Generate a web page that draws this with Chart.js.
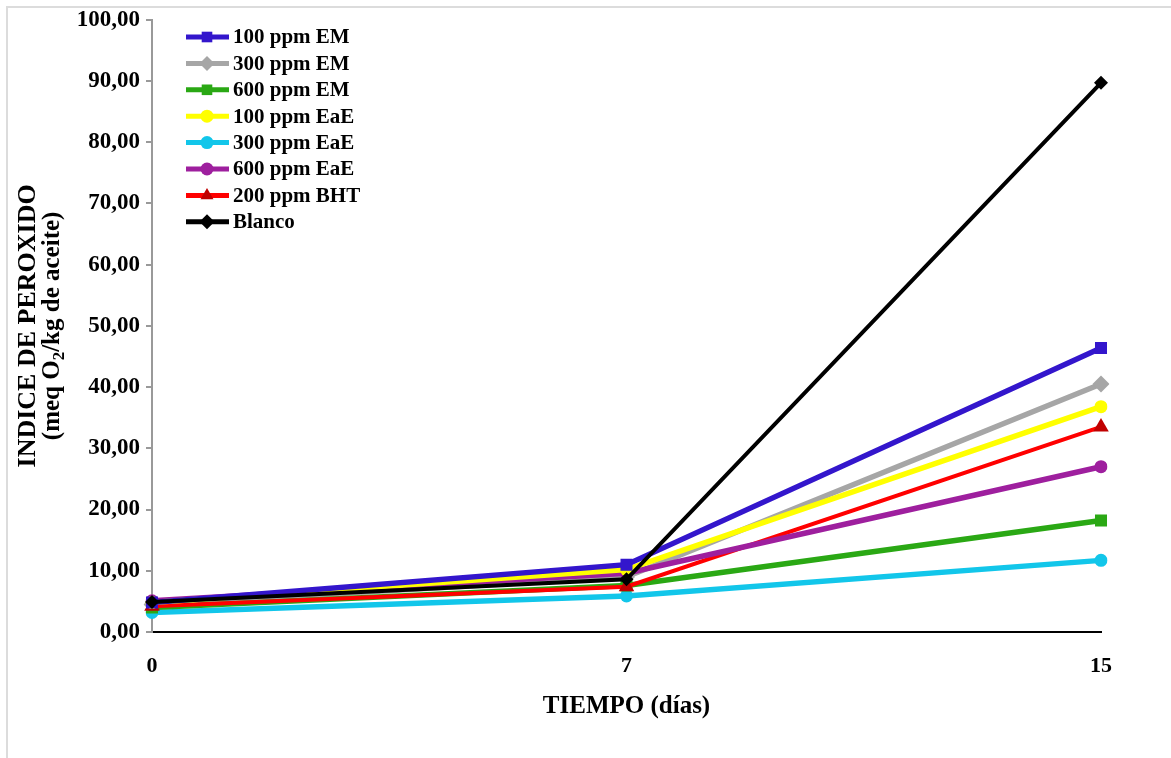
<!DOCTYPE html>
<html>
<head>
<meta charset="utf-8">
<script src="https://cdn.jsdelivr.net/npm/chart.js@4.4.1/dist/chart.umd.min.js"></script>
<style>
  html, body { margin: 0; padding: 0; background: #fff; }
  #wrap { position: relative; width: 1171px; height: 758px; }
  #frame { position: absolute; left: 6px; top: 6px; right: 0; bottom: 0; border-left: 2px solid #dcdcdc; border-top: 2px solid #dcdcdc; }
  canvas { position: absolute; left: 0; top: 0; }
</style>
</head>
<body>
<div id="wrap">
  <div id="frame"></div>
  <canvas id="chart" width="1171" height="758"></canvas>
</div>
<script>
const days = ["0", "7", "15"];
const em100 = [4.8, 11.0, 46.4];
const em300 = [4.5, 9.0, 40.5];
const em600 = [4.0, 7.6, 18.2];
const eae100 = [4.8, 10.2, 36.8];
const eae300 = [3.2, 5.9, 11.7];
const eae600 = [5.1, 9.6, 27.0];
const bht200 = [4.2, 7.4, 33.5];
const blanco = [4.9, 8.6, 89.7];

const yTicks = [0, 10, 20, 30, 40, 50, 60, 70, 80, 90, 100];
const serif = "'Liberation Serif', 'Times New Roman', serif";

function series(label, data, line, marker, style, radius, width, order) {
  return {
    label,
    data,
    borderColor: line,
    backgroundColor: marker,
    pointBackgroundColor: marker,
    pointBorderColor: marker,
    pointStyle: style,
    pointRadius: radius,
    pointHoverRadius: radius,
    pointBorderWidth: 0,
    borderWidth: width,
    tension: 0,
    order,
  };
}

const datasets = [
  series("100 ppm EM", em100, "#3316cc", "#3316cc", "rect", 8.5, 5.5, 2),
  series("300 ppm EM", em300, "#a6a6a6", "#a6a6a6", "rectRot", 8.5, 5.5, 7),
  series("600 ppm EM", em600, "#2aa814", "#2aa814", "rect", 8.5, 5.5, 6),
  series("100 ppm EaE", eae100, "#ffff00", "#ffff00", "circle", 6.5, 5.5, 3),
  series("300 ppm EaE", eae300, "#12c6ea", "#12c6ea", "circle", 6.5, 5.5, 8),
  series("600 ppm EaE", eae600, "#9e1f9e", "#9e1f9e", "circle", 6.5, 5.5, 4),
  series("200 ppm BHT", bht200, "#ff0000", "#c00000", "triangle", 9, 4, 5),
  series("Blanco", blanco, "#000000", "#000000", "rectRot", 7, 4, 1),
];

const overlay = {
  id: "overlay",
  afterDraw(chart) {
    const { ctx, chartArea } = chart;
    ctx.save();
    ctx.fillStyle = "#000";
    // axis titles
    ctx.font = `bold 25px ${serif}`;
    ctx.textAlign = "center";
    ctx.textBaseline = "middle";
    ctx.fillText("TIEMPO (días)", (chartArea.left + chartArea.right) / 2, 707);

    const cy = (chartArea.top + chartArea.bottom) / 2;
    ctx.save();
    ctx.translate(28, cy);
    ctx.rotate(-Math.PI / 2);
    ctx.font = `bold 26px ${serif}`;
    ctx.fillText("INDICE DE PEROXIDO", 0, 0);
    ctx.restore();

    ctx.save();
    ctx.translate(53, cy);
    ctx.rotate(-Math.PI / 2);
    ctx.font = `bold 25px ${serif}`;
    const a = "(meq O", b = "2", c = "/kg de aceite)";
    const wa = ctx.measureText(a).width;
    const wc = ctx.measureText(c).width;
    ctx.font = `bold 17px ${serif}`;
    const wb = ctx.measureText(b).width;
    let x = -(wa + wb + wc) / 2;
    ctx.textAlign = "left";
    ctx.font = `bold 25px ${serif}`;
    ctx.fillText(a, x, 0);
    x += wa;
    ctx.font = `bold 17px ${serif}`;
    ctx.fillText(b, x, 7);
    x += wb;
    ctx.font = `bold 25px ${serif}`;
    ctx.fillText(c, x, 0);
    ctx.restore();

    // legend
    ctx.font = `bold 21px ${serif}`;
    ctx.textAlign = "left";
    datasets.forEach((ds, i) => {
      const y = 37 + i * 26.4;
      ctx.strokeStyle = ds.borderColor;
      ctx.lineWidth = 5;
      ctx.beginPath();
      ctx.moveTo(186, y);
      ctx.lineTo(229, y);
      ctx.stroke();
      ctx.fillStyle = ds.pointBackgroundColor;
      ctx.strokeStyle = ds.pointBackgroundColor;
      Chart.helpers.drawPoint(ctx, { pointStyle: ds.pointStyle, rotation: 0, borderWidth: 0, radius: ds.pointStyle === "circle" ? 6.5 : 7.5 }, 207, y);
      ctx.fillStyle = "#000";
      ctx.fillText(ds.label, 233, y + 1);
    });
    ctx.restore();
  },
};

new Chart(document.getElementById("chart"), {
  type: "line",
  data: { labels: days, datasets },
  options: {
    responsive: false,
    animation: false,
    layout: { padding: { left: 8, right: 70, top: 15, bottom: 0 } },
    plugins: { legend: { display: false }, tooltip: { enabled: false } },
    scales: {
      x: {
        type: "category",
        offset: false,
        grid: { drawOnChartArea: false, drawTicks: false },
        border: { color: "#000", width: 2 },
        ticks: { color: "#000", font: { family: serif, size: 22, weight: "bold" }, padding: 21, maxRotation: 0 },
        afterFit(scale) { scale.height = 126; },
      },
      y: {
        min: 0,
        max: 100,
        afterBuildTicks(scale) { scale.ticks = yTicks.map((v) => ({ value: v })); },
        grid: { drawOnChartArea: false, drawTicks: true, tickLength: 6, color: "#999", lineWidth: 2 },
        border: { color: "#999", width: 2 },
        ticks: {
          color: "#000",
          font: { family: serif, size: 23, weight: "bold" },
          padding: 6,
          callback: (v) => v.toFixed(2).replace(".", ","),
        },
        afterFit(scale) { scale.width = 144; },
      },
    },
  },
  plugins: [overlay],
});
</script>
</body>
</html>
